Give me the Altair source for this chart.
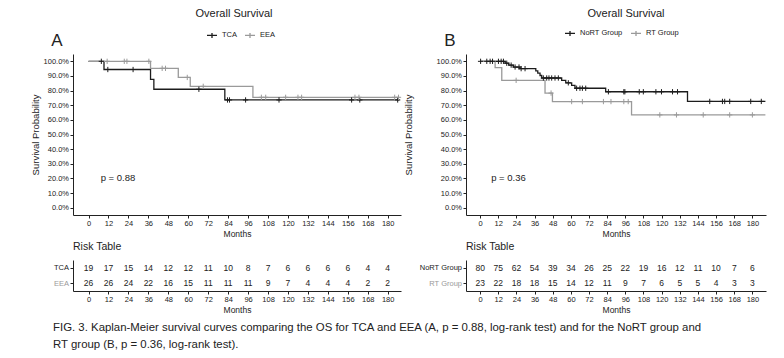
import altair as alt
import numpy as np
import pandas as pd

FONT = "Liberation Sans"
CAP_FONT = "Liberation Sans Narrow, Liberation Sans"
BLACK = "#1c1c1c"
GRAY = "#9a9a9a"
TXT = "#222222"

month_ticks = list(range(0, 181, 12))
pct_ticks = list(range(0, 101, 10))

# ---------------- Panel A : TCA vs EEA ----------------
groups_a = ["TCA", "EEA"]
tca_t = [0, 9.3, 37.3, 39.3, 82.0, 187.0]
tca_s = [100, 94.4, 87.6, 80.9, 73.6, 73.6]
tca_cens = [7.7, 11.6, 26.8, 66.4, 83.6, 84.8, 94.5, 114.6, 158.3, 163.2, 186.0]
eea_t = [0, 37.3, 54.0, 61.2, 98.9, 187.0]
eea_s = [100, 95.2, 89.0, 82.9, 75.4, 75.4]
eea_cens = [11.2, 21.5, 23.1, 36.3, 44.3, 46.3, 59.4, 69.0, 104.0, 106.6, 118.6,
            126.0, 128.2, 160.3, 162.7, 184.2, 186.5]
risk_tca = [19, 17, 15, 14, 12, 12, 11, 10, 8, 7, 6, 6, 6, 6, 4, 4]
risk_eea = [26, 26, 24, 22, 16, 15, 11, 11, 11, 9, 7, 4, 4, 4, 2, 2]
p_a = "p = 0.88"

# ---------------- Panel B : NoRT vs RT ----------------
groups_b = ["NoRT Group", "RT Group"]
nort_t = [0, 16.5, 18.9, 22.0, 26.4, 36.8, 38.1, 39.6, 40.7, 53.9, 56.6, 60.5, 62.7,
          83.0, 137.1, 188.6]
nort_s = [100, 98.7, 97.4, 96.1, 95.0, 93.5, 91.9, 90.3, 88.6, 87.0, 85.3, 83.5, 81.6,
          79.2, 72.6, 72.6]
nort_cens = [0.3, 4.4, 6.6, 8.2, 12.1, 13.9, 15.4, 17.6, 20.5, 23.1, 25.7, 27.1, 29.7,
             41.8, 44.0, 45.5, 47.3, 49.5, 51.7, 58.3, 63.8, 66.0, 67.6, 69.8, 84.8,
             95.0, 95.7, 105.2, 107.9, 116.2, 119.9, 127.2, 130.5, 151.8, 160.2,
             161.7, 165.0, 178.9, 185.9]
rt_t = [0, 9.9, 14.3, 42.9, 47.8, 100.1, 188.6]
rt_s = [100, 95.7, 87.0, 78.3, 72.5, 63.4, 63.4]
rt_cens = [23.8, 46.9, 60.5, 67.6, 81.5, 86.5, 95.0, 97.9, 118.8, 129.8, 147.5, 165.0, 180.0]
risk_nort = [80, 75, 62, 54, 39, 34, 26, 25, 22, 19, 16, 12, 11, 10, 7, 6]
risk_rt = [23, 22, 18, 18, 15, 14, 12, 11, 9, 7, 6, 5, 5, 4, 3, 3]
p_b = "p = 0.36"

caption = [
    "FIG. 3. Kaplan-Meier survival curves comparing the OS for TCA and EEA (A, p = 0.88, "
    "log-rank test) and for the NoRT group and",
    "RT group (B, p = 0.36, log-rank test).",
]


def steps(name, t, s):
    return pd.DataFrame({"group": name, "time": t, "surv": s})


def censors(name, ct, t, s):
    idx = np.searchsorted(np.array(t), np.array(ct), side="right") - 1
    return pd.DataFrame({"group": name, "time": ct, "surv": np.array(s)[idx]})


def axis_common(**kw):
    base = dict(grid=False, tickSize=3, labelFontSize=7.5, titleFontSize=8.5,
                labelFont=FONT, titleFont=FONT, labelColor=TXT, titleColor=TXT,
                domainColor=TXT, tickColor=TXT, titleFontWeight="normal",
                labelPadding=1.5)
    base.update(kw)
    return alt.Axis(**base)


def panel(step_df, cens_df, groups, risk_a, risk_b, xmax, width, letter, ptxt,
          legend_x, title_x, ytitle_pad, legend_y):
    xs = alt.Scale(domain=[-9.35, xmax], nice=False, zero=False)
    ys = alt.Scale(domain=[-5, 105], nice=False, zero=False)
    cs = alt.Scale(domain=groups, range=[BLACK, GRAY])
    x_enc = alt.X("time:Q", scale=xs,
                  axis=axis_common(values=month_ticks, title="Months", titlePadding=2,
                                   labelFlush=False))
    y_enc = alt.Y("surv:Q", scale=ys,
                  axis=axis_common(values=pct_ticks, title="Survival Probability",
                                   titleFontSize=9.5, titlePadding=ytitle_pad,
                                   labelExpr="format(datum.value, '.1f') + '%'"))
    line = alt.Chart(step_df).mark_line(interpolate="step-after", strokeWidth=1.3).encode(
        x=x_enc, y=y_enc,
        color=alt.Color("group:N", scale=cs, legend=alt.Legend(
            title=None, orient="none", legendX=legend_x, legendY=legend_y,
            direction="horizontal", symbolType="M-1,0L1,0M0,-0.5L0,0.5",
            symbolSize=100, symbolStrokeWidth=1.3, labelFontSize=7.5, labelFont=FONT,
            labelColor=TXT, labelOffset=4, columnPadding=5)),
    )
    cens = alt.Chart(cens_df).mark_point(
        shape="M-1,0L1,0M0,-1L0,1", size=28, strokeWidth=1, filled=False, opacity=1
    ).encode(x=x_enc, y=y_enc, color=alt.Color("group:N", scale=cs, legend=None))
    pdf = pd.DataFrame({"time": [7.3], "surv": [20], "label": [ptxt]})
    ptext = alt.Chart(pdf).mark_text(align="left", baseline="middle", fontSize=9.5,
                                     font=FONT, color=TXT).encode(
        x=x_enc, y=y_enc, text="label:N")
    one = alt.Data(values=[{"k": 1}])
    let = alt.Chart(one).mark_text(text=letter, fontSize=17, font=FONT, color=TXT,
                                   align="center", baseline="alphabetic").encode(
        x=alt.value(-16), y=alt.value(-8))
    ttl = alt.Chart(one).mark_text(text="Overall Survival", fontSize=11, font=FONT,
                                   color=TXT, align="center", baseline="middle").encode(
        x=alt.value(title_x), y=alt.value(-40))
    km = alt.layer(line, cens, ptext, let, ttl).properties(width=width, height=161)

    rdf = pd.DataFrame({
        "group": [groups[0]] * len(month_ticks) + [groups[1]] * len(month_ticks),
        "time": month_ticks + month_ticks,
        "n": risk_a + risk_b,
    })
    rx = alt.X("time:Q", scale=xs,
               axis=axis_common(values=month_ticks, title="Months", titlePadding=2,
                                labelFlush=False))
    ry = alt.Y("group:N", scale=alt.Scale(domain=groups),
               axis=axis_common(title=None, labelFontSize=7.5, labelColor={
                   "expr": f"datum.value == '{groups[1]}' ? '{GRAY}' : '{TXT}'"}))
    rtxt = alt.Chart(rdf).mark_text(fontSize=8.5, font=FONT, color=TXT).encode(
        x=rx, y=ry, text="n:Q")
    rtitle = alt.Chart(one).mark_text(text="Risk Table", fontSize=10.5, font=FONT,
                                      color=TXT, align="left", baseline="middle").encode(
        x=alt.value(0), y=alt.value(-13))
    rt = alt.layer(rtxt, rtitle).properties(width=width, height=31)
    return alt.vconcat(km, rt, spacing=4).resolve_scale(
        x="independent", y="independent", color="independent")


col_a = panel(
    pd.concat([steps("TCA", tca_t, tca_s), steps("EEA", eea_t, eea_s)]),
    pd.concat([censors("TCA", tca_cens, tca_t, tca_s), censors("EEA", eea_cens, eea_t, eea_s)]),
    groups_a, risk_tca, risk_eea, 188.0, 328, "A", p_a, 133, 161, 3, -25)
col_b = panel(
    pd.concat([steps("NoRT Group", nort_t, nort_s), steps("RT Group", rt_t, rt_s)]),
    pd.concat([censors("NoRT Group", nort_cens, nort_t, nort_s),
               censors("RT Group", rt_cens, rt_t, rt_s)]),
    groups_b, risk_nort, risk_rt, 189.0, 300, "B", p_b, 98, 160, 23, -27)

chart = alt.hconcat(col_a, col_b, spacing=-1).resolve_scale(
    x="independent", y="independent", color="independent"
).properties(
    title=alt.TitleParams(text=caption, orient="bottom", anchor="start", frame="bounds",
                          fontSize=11.4, font=CAP_FONT, fontWeight="normal", color=TXT,
                          lineHeight=17, offset=8, dx=23),
    padding={"left": 22, "top": 0, "right": 5, "bottom": 0},
    background="white",
).configure_view(strokeWidth=0, stroke="transparent")

chart.save("out.html", embed_options={"renderer": "svg", "actions": False})
